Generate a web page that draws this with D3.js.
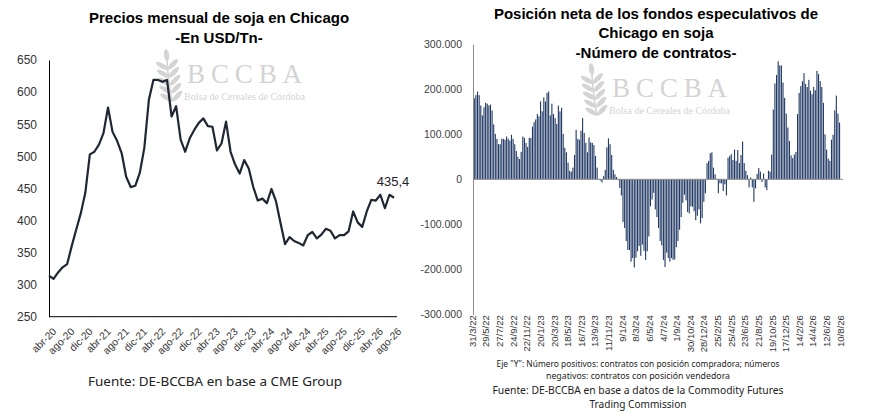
<!DOCTYPE html>
<html><head><meta charset="utf-8">
<script src="https://cdn.jsdelivr.net/npm/d3@7"></script>
<style>body{margin:0;background:#fff}svg{display:block}</style>
</head><body>
<svg id="c" width="870" height="414"></svg>
<script>
// ---------- DATA ----------
const monthAbbr = ["ene","feb","mar","abr","may","jun","jul","ago","sep","oct","nov","dic"];
const priceStartYear = 2020, priceStartMonth = 3; // abr-20
const soyPrices = [314,309,319,327,332,360,386,411,443,503,507,518,536,576,538,524,505,468,452,454,
  474,513,588,619,619,616,619,562,578,526,507,528,541,552,559,547,546,509,520,554,507,487,473,494,481,
  452,431,434,427,449,430,396,363,374,368,365,361,377,382,372,378,387,384,372,377,377,383,414,397,390,
  414,432,431,440,419,440,435.4];
const priceTicks = [250,300,350,400,450,500,550,600,650];
const lastPriceLabel = "435,4";

const netPositionThousands = [
  180,187,195,187,164,142,160,170,168,164,166,153,122,101,90,78,78,90,90,88,95,90,86,99,90,78,63,50,45,61,
  95,92,81,72,92,92,117,127,133,145,140,173,151,182,173,192,195,142,168,145,136,123,164,151,159,101,70,
  60,37,19,17,26,54,110,90,88,108,136,103,81,60,93,82,81,76,52,26,-1,-3,-7,7,21,71,91,78,54,21,11,5,-2,
  -19,-36,-95,-108,-137,-157,-157,-183,-175,-196,-174,-160,-148,-170,-145,-159,-179,-160,-127,-60,-45,-30,
  -67,-84,-108,-137,-147,-179,-195,-163,-175,-183,-175,-179,-178,-151,-137,-112,-84,-52,-34,-47,-73,-76,
  -60,-61,-71,-91,-81,-67,-98,-86,-50,-31,36,41,58,60,26,11,1,-31,-9,-9,-26,-11,-36,48,52,56,43,66,41,65,
  36,54,84,36,19,9,-18,4,-18,-50,-20,12,25,17,-6,13,-18,-24,19,17,55,155,213,232,262,253,253,215,181,146,
  115,85,53,47,55,61,145,192,207,218,236,212,205,221,197,189,205,198,241,234,218,205,170,100,66,46,41,88,
  99,153,186,146,126];
const netFirstDate = "10/4/22"; // weekly reports
const netDateLabels = ["31/3/22","29/5/22","27/7/22","24/9/22","22/11/22","20/1/23","20/3/23","18/5/23",
  "16/7/23","13/9/23","11/11/23","9/1/24","8/3/24","6/5/24","4/7/24","1/9/24","30/10/24","28/12/24",
  "25/2/25","25/4/25","23/6/25","21/8/25","19/10/25","17/12/25","14/2/26","14/4/26","12/6/26","10/8/26"];
const netTicks = [-300,-200,-100,0,100,200,300];

// ---------- SETUP ----------
const svg = d3.select("#c");
const sans = "'Liberation Sans', Arial, sans-serif";
const serif = "'Liberation Serif', 'DejaVu Serif', serif";
const loc = d3.formatLocale({decimal:",", thousands:".", grouping:[3], currency:["$",""], minus:"-"});
const fmtK = v => v === 0 ? "0" : loc.format(",.0f")(v*1000);

function logo(x, y, s) {
  const g = svg.append("g").attr("transform", `translate(${x},${y}) scale(${s})`).attr("fill", "#d4d4d4");
  const w = g.append("g").attr("transform", "rotate(-8 12 30)");
  w.append("path").attr("d", "M12,52 Q11,30 13,6").attr("stroke", "#d4d4d4").attr("stroke-width", 1.6).attr("fill", "none");
  w.append("ellipse").attr("cx", 13).attr("cy", 5).attr("rx", 2.6).attr("ry", 6);
  [0,1,2,3,4].forEach(i => {
    const cy = 15 + i*8;
    w.append("ellipse").attr("cx", 7).attr("cy", cy).attr("rx", 7).attr("ry", 2.4).attr("transform", `rotate(38 7 ${cy})`);
    w.append("ellipse").attr("cx", 18).attr("cy", cy).attr("rx", 7).attr("ry", 2.4).attr("transform", `rotate(-38 18 ${cy})`);
  });
  g.append("text").attr("x", 30).attr("y", 33).attr("font-family", serif).attr("font-size", 27)
    .attr("textLength", 115).attr("lengthAdjust", "spacing").text("BCCBA");
  g.append("text").attr("x", 27).attr("y", 50).attr("font-family", serif).attr("font-size", 10.5)
    .attr("textLength", 121).attr("lengthAdjust", "spacingAndGlyphs").text("Bolsa de Cereales de Córdoba");
}

// ---------- LEFT CHART ----------
const months = soyPrices.map((_, i) => {
  const m = (priceStartMonth + i) % 12, yy = priceStartYear + Math.floor((priceStartMonth + i) / 12);
  return monthAbbr[m] + "-" + String(yy).slice(2);
});
const xL = d3.scalePoint().domain(months).range([49, 394]);
const yL = d3.scaleLinear().domain([250, 650]).range([316.7, 60]);

logo(157, 50, 1);

svg.append("text").attr("x", 219).attr("y", 23).attr("text-anchor", "middle").attr("font-family", sans)
  .attr("font-weight", "bold").attr("font-size", 15).attr("fill", "#000").text("Precios mensual de soja en Chicago");
svg.append("text").attr("x", 219).attr("y", 43).attr("text-anchor", "middle").attr("font-family", sans)
  .attr("font-weight", "bold").attr("font-size", 15).attr("fill", "#000").text("-En USD/Tn-");

const gYL = svg.append("g").attr("transform", "translate(49,0)")
  .call(d3.axisLeft(yL).tickValues(priceTicks).tickSize(0).tickPadding(12).tickFormat(d3.format("d")));
gYL.select(".domain").attr("stroke", "#000");
gYL.selectAll("text").attr("font-family", sans).attr("font-size", 12).attr("fill", "#333");

const gXL = svg.append("g").attr("transform", "translate(0,316.7)")
  .call(d3.axisBottom(xL).tickValues(months.filter((_, i) => i % 4 === 0)).tickSize(0).tickSizeOuter(0));
gXL.select(".domain").attr("stroke", "#000").attr("d", "M49,0H397");
gXL.selectAll("text").attr("font-family", sans).attr("font-size", 10.3).attr("fill", "#333")
  .attr("text-anchor", "end").attr("dy", "0.35em").attr("y", 0)
  .attr("transform", "translate(5,13) rotate(-45)");

svg.append("path").datum(soyPrices).attr("fill", "none").attr("stroke", "#1f2733").attr("stroke-width", 2.2)
  .attr("stroke-linejoin", "round")
  .attr("d", d3.line().x((d, i) => xL(months[i])).y(d => yL(d)));

svg.append("text").attr("x", xL(months[months.length-1]) - 1).attr("y", 186).attr("text-anchor", "middle")
  .attr("font-family", sans).attr("font-size", 13).attr("fill", "#222").text(lastPriceLabel);

svg.append("text").attr("x", 215).attr("y", 386).attr("text-anchor", "middle").attr("font-family", "'Noto Sans', sans-serif")
  .attr("font-size", 13.3).attr("fill", "#222").attr("textLength", 254).attr("lengthAdjust", "spacingAndGlyphs")
  .text("Fuente: DE-BCCBA en base a CME Group");

// ---------- RIGHT CHART ----------
const parseD = d3.timeParse("%d/%m/%y");
const labelDates = netDateLabels.map(parseD);
const firstD = parseD(netFirstDate);
const netDates = netPositionThousands.map((_, i) => d3.timeDay.offset(firstD, 7*i));
const xR = d3.scaleTime().domain([labelDates[0], labelDates[labelDates.length-1]]).range([472, 839.8]);
const yR = d3.scaleLinear().domain([-300, 300]).range([314.3, 44.3]);

logo(582, 64, 1.0);

[["Posición neta de los fondos especulativos de", 18.5], ["Chicago en soja", 38], ["-Número de contratos-", 58]]
  .forEach(([t, yy]) => svg.append("text").attr("x", 656).attr("y", yy).attr("text-anchor", "middle")
    .attr("font-family", sans).attr("font-weight", "bold").attr("font-size", 15).attr("fill", "#000").text(t));

svg.append("g").selectAll("rect").data(netPositionThousands).join("rect")
  .attr("x", (d, i) => xR(netDates[i]) - 0.55).attr("width", 1.1)
  .attr("y", d => yR(Math.max(0, d))).attr("height", d => Math.abs(yR(d) - yR(0)))
  .attr("fill", "#1f3864");

const gYR = svg.append("g").attr("transform", "translate(473,0)")
  .call(d3.axisLeft(yR).tickValues(netTicks).tickSize(0).tickPadding(11).tickFormat(fmtK));
gYR.select(".domain").attr("stroke", "#8c8c8c");
gYR.selectAll("text").attr("font-family", sans).attr("font-size", 10.5).attr("fill", "#404040");

svg.append("line").attr("x1", 473).attr("x2", 843).attr("y1", yR(0)).attr("y2", yR(0))
  .attr("stroke", "#8c8c8c").attr("stroke-width", 1);

const gXR = svg.append("g").attr("transform", "translate(0,314.3)")
  .call(d3.axisBottom(xR).tickValues(labelDates).tickSize(0).tickFormat((d, i) => netDateLabels[i]));
gXR.select(".domain").remove();
gXR.selectAll("text").attr("font-family", sans).attr("font-size", 9.5).attr("fill", "#333")
  .attr("text-anchor", "end").attr("dy", "0.35em").attr("y", 0)
  .attr("transform", "translate(0,1) rotate(-90)");

const foot = [
  ['Eje "Y": Número positivos: contratos con posición compradora; números', 366.5, 8.8, 283],
  ["negativos: contratos con posición vendedora", 379, 8.8, 184],
  ["Fuente: DE-BCCBA en base a datos de la Commodity Futures", 394, 10.3, 291],
  ["Trading Commission", 407.5, 10.3, 97]
];
foot.forEach(([t, yy, fs, tl]) => svg.append("text").attr("x", 638).attr("y", yy).attr("text-anchor", "middle")
  .attr("font-family", "'Noto Sans', sans-serif").attr("font-size", fs).attr("fill", "#222")
  .attr("textLength", tl).attr("lengthAdjust", "spacingAndGlyphs").text(t));
</script>
</body></html>
